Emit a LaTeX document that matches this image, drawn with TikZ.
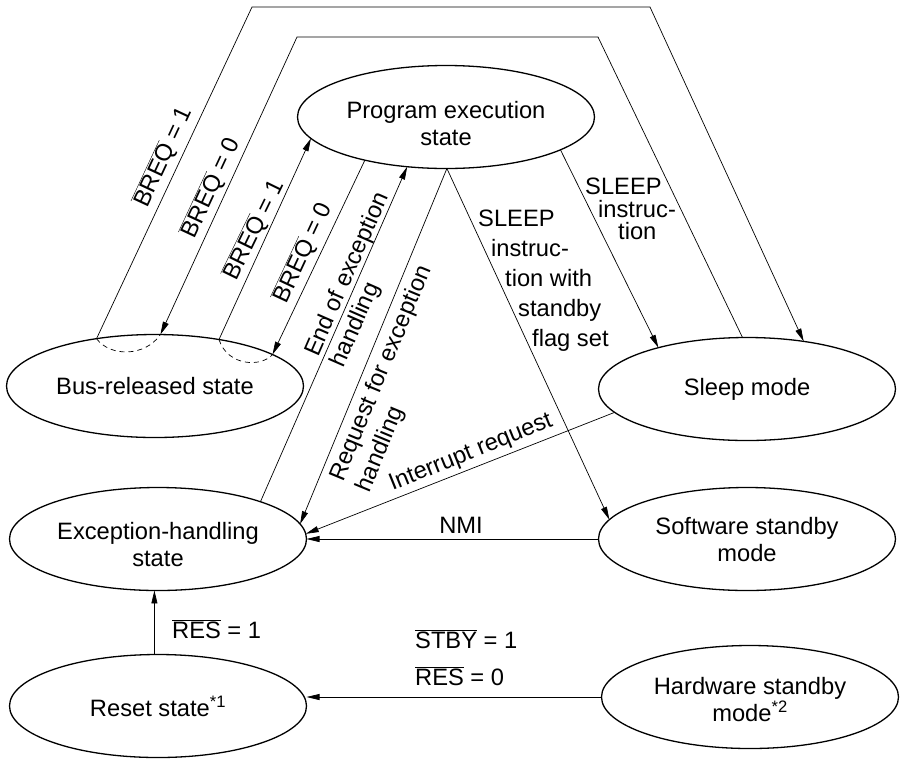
\documentclass[tikz,border=0pt]{standalone}
\usepackage{fontspec}
\setmainfont{Liberation Sans}
\usetikzlibrary{shapes.geometric,arrows.meta}
\newcommand{\ovl}[1]{$\overline{\mbox{#1}}$}
\begin{document}
\begin{tikzpicture}[x=1pt,y=-1pt,
  state/.style={ellipse,draw,line width=1.3pt,minimum width=297pt,minimum height=103pt,inner sep=0pt,outer sep=0pt,align=center,font=\fontsize{23.7}{27}\selectfont},
  conn/.style={line width=0.7pt},
  arr/.style={conn,-{Triangle[length=13pt,width=6pt]}},
  lbl/.style={inner sep=0pt,font=\fontsize{23.7}{27}\selectfont},
  dashedarc/.style={conn,dash pattern=on 5pt off 4pt}
]
\useasboundingbox (0,0) rectangle (901,761);
% states
\node[state] (pe) at (446,117) {\rule{0pt}{31pt}Program execution\\state};
\node[state] (bus) at (155,386) {Bus-released state};
\node[state] (sleep) at (747,389) {Sleep mode};
\node[state] (exc) at (158,539) {\rule{0pt}{29pt}Exception-handling\\state};
\node[state] (sw) at (747,539) {\rule{0pt}{19pt}Software standby\\mode};
\node[state] (reset) at (158,706) {Reset state\textsuperscript{*1}};
\node[state] (hw) at (750,697) {\rule{0pt}{23pt}Hardware standby\\mode\textsuperscript{*2}};
% corner points
\coordinate (o1) at (252,7);
\coordinate (o2) at (650,7);
\coordinate (i1) at (297,37);
\coordinate (i2) at (598,37);
% connectors
\draw[arr] (bus.141.3) -- (o1) -- (o2) -- (sleep.40.2);
\draw[arr] (sleep.95.5) -- (i2) -- (i1) -- (bus.84.4);
\draw[arr] (bus.36.1) -- (pe.189.7);
\draw[arr] (pe.208) -- (bus.15);
\draw[arr] (exc.20.3) -- (pe.232.6);
\draw[arr] (pe.271) -- (exc.6.4);
\draw[arr] (pe.271) -- (sw.172.5);
\draw[arr] (pe.344) -- (sleep.155);
\draw[arr] (sleep.190.1) -- (exc.2.7);
\draw[arr] (sw.west) -- (exc.east);
\draw[arr] (reset.94) -- (exc.266);
\draw[arr] (hw.west) -- (hw.west -| reset.east);
% dashed arcs
\draw[dashedarc] (bus.141.3) .. controls (110,357) and (145,357) .. (bus.84.4);
\draw[dashedarc] (bus.36.1) .. controls (228,367) and (262,367) .. (bus.15);
% labels
\node[lbl,rotate=65] (l1) at (163.5,157) {\ovl{BREQ} = 1};
\node[lbl,rotate=65] (l2) at (211,188) {\ovl{BREQ} = 0};
\node[lbl,rotate=64] (l3) at (254,230) {\ovl{BREQ} = 1};
\node[lbl,rotate=65] (l4) at (303,253) {\ovl{BREQ} = 0};
\node[lbl,rotate=66.4,anchor=north west,align=left,font=\fontsize{23.7}{28}\selectfont] (l5) at (302,351) {End of exception\\handling};
\node[lbl,rotate=67.5,anchor=north west,align=left,font=\fontsize{23.7}{28}\selectfont] (l6) at (327,476) {Request for exception\\handling};
\node[lbl,rotate=22] (l7) at (471,453) {Interrupt request};
\node[lbl] (l8) at (461,525) {NMI};
\node[lbl,anchor=west] (l9) at (172,629) {\ovl{RES} = 1};
\node[lbl,anchor=west] (l10) at (415,639) {\ovl{STBY} = 1};
\node[lbl,anchor=west] (l11) at (415,676) {\ovl{RES} = 0};
\node[lbl,anchor=north west,align=left,font=\fontsize{23.7}{22.5}\selectfont] (l12) at (585,178) {SLEEP\\\hspace*{13pt}instruc-\\\hspace*{33pt}tion};
\node[lbl,anchor=north west,align=left,font=\fontsize{23.7}{30}\selectfont] (l13) at (478,210) {SLEEP\\\hspace*{13pt}instruc-\\\hspace*{27pt}tion with\\\hspace*{40pt}standby\\\hspace*{54pt}flag set};
\end{tikzpicture}
\end{document}
